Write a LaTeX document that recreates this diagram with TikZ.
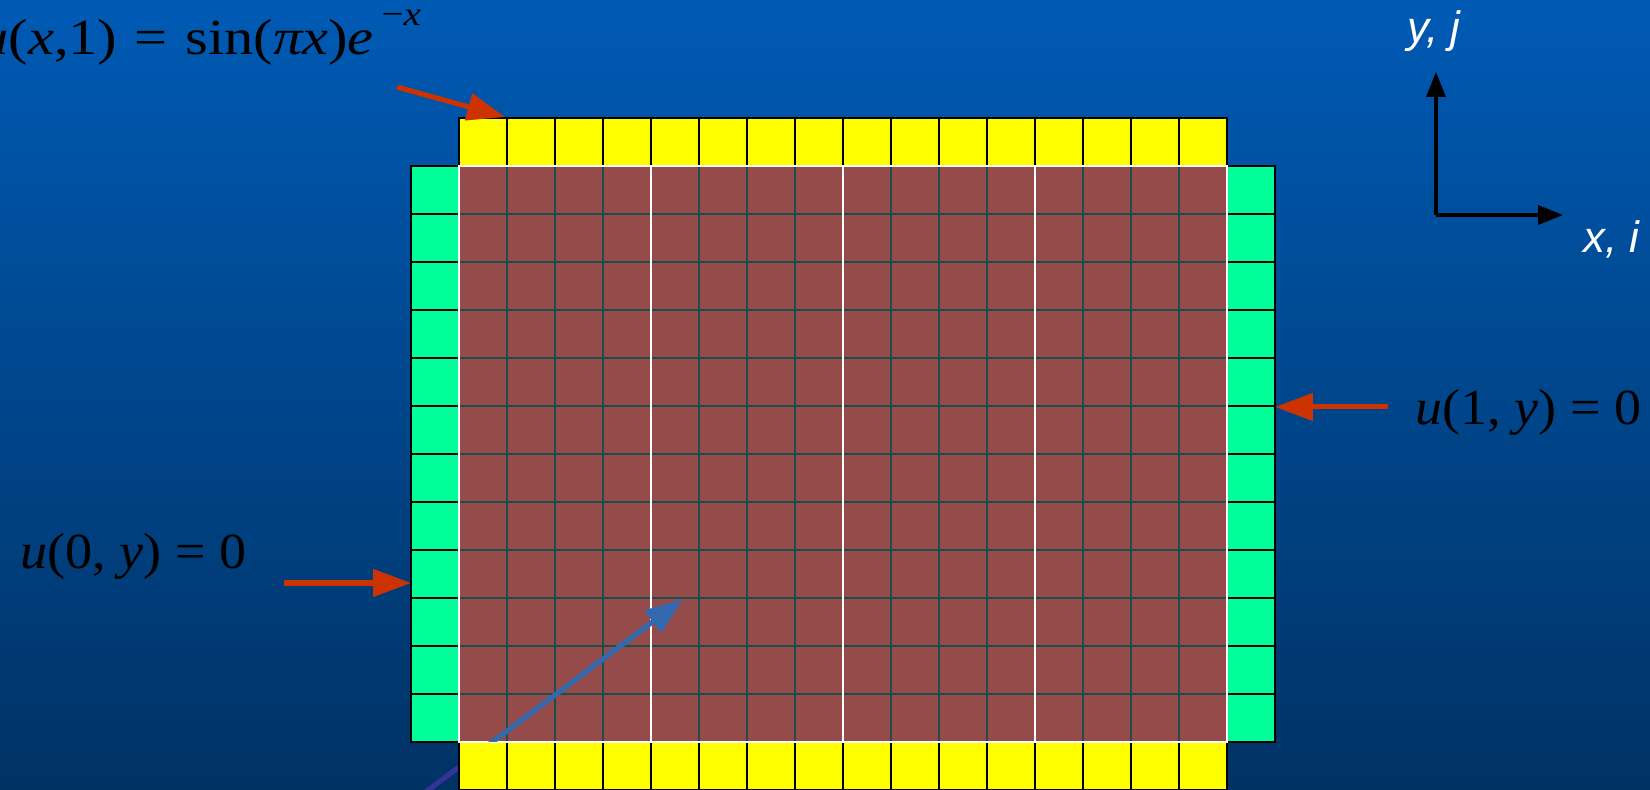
\documentclass[tikz,border=0pt]{standalone}
\usepackage{fontspec}
\usetikzlibrary{arrows.meta}
\newfontfamily\eqfont{Liberation Serif}
\newfontfamily\lblfont{Liberation Sans}
\definecolor{bgtop}{RGB}{0,90,180}
\definecolor{bgbot}{RGB}{0,50,100}
\definecolor{cellin}{RGB}{150,75,75}
\definecolor{gridln}{RGB}{28,78,74}
\definecolor{bcyel}{RGB}{255,255,0}
\definecolor{bcgrn}{RGB}{0,255,153}
\definecolor{redarr}{RGB}{204,51,0}
\definecolor{bluearr}{RGB}{50,105,175}
\definecolor{purparr}{RGB}{51,51,153}

\begin{document}
\begin{tikzpicture}[
    bcell/.style={draw=black, line width=1.3pt},
    redarrow/.style={redarr, line width=3pt, -{Triangle[length=0.79cm, width=0.56cm]}},
    axarrow/.style={black, line width=1.8pt, -{Triangle[length=0.52cm, width=0.4cm]}},
    eqtext/.style={font=\eqfont\fontsize{30}{36}\selectfont, text=black, inner sep=0pt, xscale=1.07, transform shape},
    axlabel/.style={font=\lblfont\itshape\fontsize{26}{30}\selectfont, text=white, inner sep=0pt}
]
\useasboundingbox (-9.5625,-1) rectangle (24.8125,15.4583);
\clip (-9.5625,-1) rectangle (24.8125,15.4583);
\shade[top color=bgtop, bottom color=bgbot] (-9.5625,-1) rectangle (24.8125,15.4583);

% pointer into the grid, its lower part lies behind the cells
\coordinate (ptip) at (4.667,2.979);
\coordinate (ptail) at (-1.4,-1.57);
\draw[purparr, line width=3pt] (ptail) -- (ptip);

% boundary cells
\foreach \i in {0,...,15} {
    \draw[bcell, fill=bcyel] (\i,12) rectangle ++(1,1);
    \draw[bcell, fill=bcyel] (\i,-1) rectangle ++(1,1);
}
\foreach \j in {0,...,11} {
    \draw[bcell, fill=bcgrn] (-1,\j) rectangle ++(1,1);
    \draw[bcell, fill=bcgrn] (16,\j) rectangle ++(1,1);
}

% interior grid
\fill[cellin] (0,0) rectangle (16,12);
\draw[gridln, line width=1.2pt] (0,0) grid (16,12);
\foreach \x in {4,8,12}
    \draw[white, line width=1.2pt] (\x,0) -- (\x,12);
\draw[white, line width=1.2pt] (0,0) rectangle (16,12);

\begin{scope}
    \clip (0,0) rectangle (16,12);
    \draw[bluearr, line width=3pt, -{Triangle[length=0.79cm, width=0.56cm]}] (ptail) -- (ptip);
\end{scope}

% boundary conditions
\node[eqtext, xscale=1.08, anchor=base west] (bctop) at (-10.0,14.3125)
    {{\itshape u}({\itshape x},1)\hspace{0.05em} = \hspace{0.05em}sin({\itshape πx}){\itshape e}\raisebox{0.58em}{\fontsize{20}{20}\selectfont\hspace{0.2em}−{\itshape x}}};
\node[eqtext, anchor=base west] (bcleft) at (-9.146,3.604)
    {{\itshape u}(0, {\itshape y}) = 0};
\node[eqtext, anchor=base west] (bcright) at (19.917,6.604)
    {{\itshape u}(1, {\itshape y}) = 0};

\coordinate (toptail) at (-1.292,13.646);
\coordinate (toptip) at (0.96,13.02);
\coordinate (lefttail) at (-3.646,3.3125);
\coordinate (lefttip) at (-1,3.3125);
\coordinate (righttail) at (19.35,6.98);
\coordinate (righttip) at (17,6.98);
\draw[redarrow] (toptail) -- (toptip);
\draw[redarrow] (lefttail) -- (lefttip);
\draw[redarrow] (righttail) -- (righttip);

% axes
\coordinate (ax0) at (20.354,10.979);
\coordinate (axy) at (20.354,13.958);
\coordinate (axx) at (23.0,10.979);
\draw[axarrow] (ax0) -- (axy);
\draw[axarrow] (ax0) -- (axx);
\node[axlabel, anchor=base west] (ylab) at (19.75,14.5625) {y, j};
\node[axlabel, anchor=base west] (xlab) at (23.417,10.208) {x, i};
\end{tikzpicture}
\end{document}
